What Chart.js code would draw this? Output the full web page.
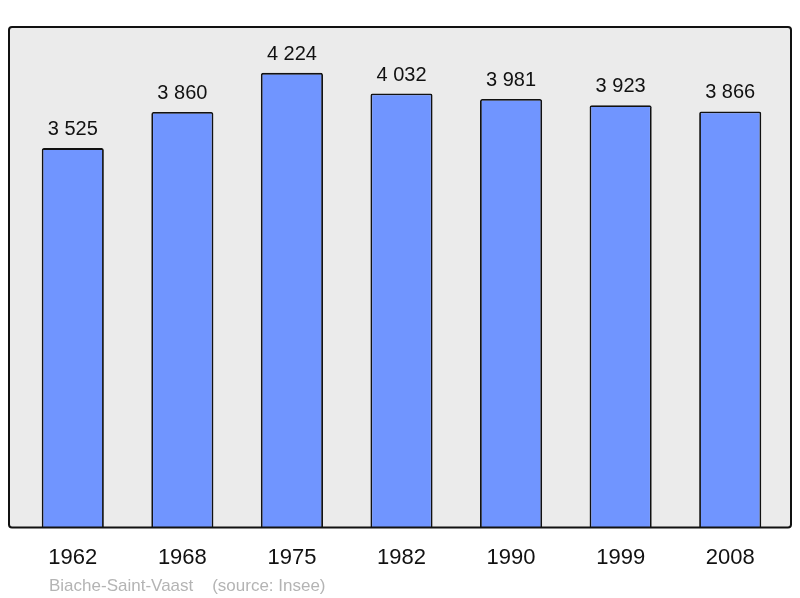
<!DOCTYPE html>
<html>
<head>
<meta charset="utf-8">
<script src="https://cdn.jsdelivr.net/npm/chart.js@4"></script>
<style>
    html, body { margin: 0; padding: 0; background: #fff; }
    #wrap { width: 800px; height: 598px; }
</style>
</head>
<body>
<div id="wrap"><canvas id="popChart" width="800" height="598"></canvas></div>
<script>
// Data
const years = ['1962', '1968', '1975', '1982', '1990', '1999', '2008'];
const population = [3525, 3860, 4224, 4032, 3981, 3923, 3866];
const yMax = 4650;
const sourceText = 'Biache-Saint-Vaast    (source: Insee)';

const FONT = '"Liberation Sans", Arial, sans-serif';

// Format with space as thousands separator
function formatValue(v) {
    return String(v).replace(/\B(?=(\d{3})+(?!\d))/g, ' ');
}

// Grey frame behind the bars, border drawn on top
const framePlugin = {
    id: 'frame',
    beforeDatasetsDraw(chart) {
        const ctx = chart.ctx;
        const a = chart.chartArea;
        ctx.save();
        ctx.fillStyle = '#ebebeb';
        ctx.beginPath();
        ctx.roundRect(a.left - 9, a.top, a.right - a.left + 15, a.bottom - a.top, 3);
        ctx.fill();
        ctx.restore();
    },
    afterDatasetsDraw(chart) {
        const ctx = chart.ctx;
        const a = chart.chartArea;
        ctx.save();
        ctx.strokeStyle = '#111';
        ctx.lineWidth = 2;
        ctx.beginPath();
        ctx.roundRect(a.left - 9, a.top, a.right - a.left + 15, a.bottom - a.top, 3);
        ctx.stroke();

        // value labels above bars
        const meta = chart.getDatasetMeta(0);
        ctx.fillStyle = '#111';
        ctx.font = '20px ' + FONT;
        ctx.textAlign = 'center';
        ctx.textBaseline = 'alphabetic';
        meta.data.forEach((bar, i) => {
            ctx.fillText(formatValue(population[i]), bar.x, bar.y - 13);
        });

        // source line
        ctx.fillStyle = '#b4b4b4';
        ctx.font = '17px ' + FONT;
        ctx.textAlign = 'left';
        ctx.fillText(sourceText, 49, 591);
        ctx.restore();
    }
};

const ctx = document.getElementById('popChart').getContext('2d');
new Chart(ctx, {
    type: 'bar',
    data: {
        labels: years,
        datasets: [{
            data: population,
            backgroundColor: '#7095ff',
            borderColor: '#111',
            borderWidth: 1.8,
            borderRadius: 2,
            borderSkipped: 'bottom',
            barPercentage: 0.567,
            categoryPercentage: 1.0
        }]
    },
    options: {
        responsive: false,
        animation: false,
        layout: {
            padding: { left: 18, right: 15, top: 27, bottom: 10 }
        },
        plugins: {
            legend: { display: false },
            tooltip: { enabled: false }
        },
        scales: {
            x: {
                grid: { display: false, drawTicks: false },
                border: { display: false },
                ticks: {
                    color: '#111',
                    padding: 17,
                    font: { family: FONT, size: 22 }
                }
            },
            y: {
                display: false,
                min: 0,
                max: yMax
            }
        }
    },
    plugins: [framePlugin]
});
</script>
</body>
</html>
